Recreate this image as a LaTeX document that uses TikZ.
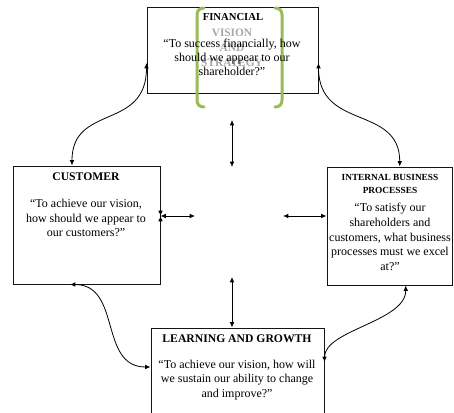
\documentclass[tikz,border=0pt]{standalone}
\usepackage{fontspec}
\setmainfont{Liberation Serif}
\usetikzlibrary{arrows.meta}

\tikzset{every picture/.style={line width=0.75pt}}
\tikzset{
	box/.style={draw={rgb, 255:red, 20; green, 20; blue, 20 }, inner sep=0pt},
	headtxt/.style={font=\bfseries\fontsize{8.75}{11}\selectfont, align=center},
	smallhead/.style={font=\bfseries\fontsize{7}{9.75}\selectfont, align=center},
	bodytxt/.style={font=\fontsize{9}{11.1}\selectfont, align=center},
	visiontxt/.style={font=\bfseries\fontsize{8.5}{11.25}\selectfont, align=center, text={rgb, 255:red, 166; green, 166; blue, 166 }},
	bracket/.style={draw={rgb, 255:red, 155; green, 187; blue, 89 }, line width=2.25pt, line cap=round},
	link/.style={{Latex[length=4pt,width=3.5pt]}-{Latex[length=4pt,width=3.5pt]}, line width=0.6pt},
	tip/.style={-{Latex[length=4pt,width=3.5pt]}, line width=0.6pt}}

\begin{document}
\begin{tikzpicture}[x=0.75pt,y=0.75pt,yscale=-1,xscale=1]
	\clip (0,0) rectangle (454,412);

	%Shape: Rectangle [id:fin] 
	\node[box, minimum width=128.25pt, minimum height=64.5pt] (fin) at (232.5,50) {};
	%Shape: Rectangle [id:cust] 
	\node[box, minimum width=110.25pt, minimum height=88.5pt] (cust) at (86.5,225) {};
	%Shape: Rectangle [id:int] 
	\node[box, minimum width=94.1pt, minimum height=88.5pt] (int) at (389.75,226) {};
	%Shape: Rectangle [id:learn] 
	\node[box, minimum width=129.75pt, minimum height=69pt] (learn) at (237.5,374) {};

	% Text Node
	\node[visiontxt] (vision) at (232,48) {VISION\\AND\\STRATEGY};

	%Shape: Brace [id:lbr] 
	\draw[bracket] (204,8) .. controls (199.5,8) and (197,10.5) .. (197,15) -- (197,100) .. controls (197,104.5) and (199.5,107) .. (204,107) ;
	%Shape: Brace [id:rbr] 
	\draw[bracket] (275,8) .. controls (279.5,8) and (282,10.5) .. (282,15) -- (282,100) .. controls (282,104.5) and (279.5,107) .. (275,107) ;

	% Text Node
	\node[headtxt, font=\bfseries\fontsize{8}{10}\selectfont] (finhead) at (233,17) {FINANCIAL};
	% Text Node
	\node[bodytxt, font=\fontsize{9}{10.5}\selectfont] (finbody) at (232,57) {``To success financially, how\\should we appear to our\\shareholder?''};
	% Text Node
	\node[headtxt] (custhead) at (86,177) {CUSTOMER};
	% Text Node
	\node[bodytxt] (custbody) at (86,218) {``To achieve our vision,\\how should we appear to\\our customers?''};
	% Text Node
	\node[smallhead] (inthead) at (390,183.5) {INTERNAL BUSINESS\\PROCESSES};
	% Text Node
	\node[bodytxt] (intbody) at (390,237) {``To satisfy our\\shareholders and\\customers, what business\\processes must we excel\\at?''};
	% Text Node
	\node[headtxt] (learnhead) at (237,339) {LEARNING AND GROWTH};
	% Text Node
	\node[bodytxt] (learnbody) at (237,380) {``To achieve our vision, how will\\we sustain our ability to change\\and improve?''};

	%Coordinates of the free ends
	\coordinate (uptop) at (232,120);
	\coordinate (upbot) at (232,167);
	\coordinate (lowtop) at (232,277);
	\coordinate (leftend) at (195,216);
	\coordinate (rightend) at (283,216);

	%Curve Lines [id:fin-cust] 
	\draw[link] ([xshift=-10.9pt]cust.north) .. controls +(0,-62) and +(0,68) .. ([yshift=9.75pt]fin.west) ;
	%Curve Lines [id:fin-int] 
	\draw[link] ([yshift=9.75pt]fin.east) .. controls +(0,68) and +(0,-62) .. ([xshift=7.5pt]int.north) ;
	%Curve Lines [id:cust-learn] 
	\draw[link] ([xshift=-12.4pt]cust.south) .. controls +(52,0) and +(-52,0) .. ([yshift=-5.25pt]learn.west) ;
	%Curve Lines [id:learn-int] 
	\draw[link] ([yshift=-9pt]learn.east) .. controls +(0,-32) and +(0,36) .. ([xshift=12pt]int.south) ;

	%Straight Lines [id:centre] 
	\draw[link] (uptop) -- (upbot) ;
	\draw[link] (lowtop) -- (learn.north -| lowtop) ;
	\draw[link] ([yshift=-6.75pt]cust.east) -- (leftend) ;
	\draw[link] (rightend) -- ([yshift=-7.5pt]int.west) ;
	\draw[tip] ([yshift=-12pt]cust.east) -- ([yshift=-6.75pt]cust.east) ;
	\draw[tip] ([yshift=-1.5pt]cust.east) -- ([yshift=-6.75pt]cust.east) ;

\end{tikzpicture}
\end{document}
